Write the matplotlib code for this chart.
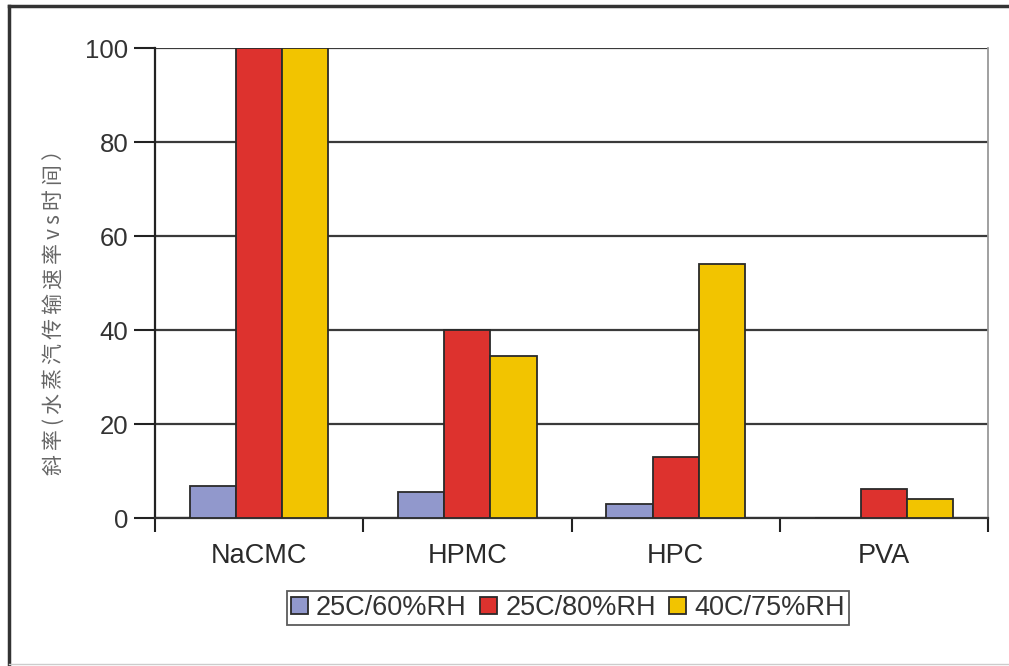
import numpy as np
import matplotlib.pyplot as plt
from matplotlib.lines import Line2D

plt.rcParams['font.family'] = ['Liberation Sans', 'DejaVu Sans']

# data
polymers = ['NaCMC', 'HPMC', 'HPC', 'PVA']
cond_names = ['25C/60%RH', '25C/80%RH', '40C/75%RH']
rh60_25c = [6.8, 5.6, 2.9, 0.0]
rh80_25c = [100.0, 40.0, 13.0, 6.2]
rh75_40c = [100.0, 34.4, 54.0, 4.1]
y_ticks = [0, 20, 40, 60, 80, 100]
y_label = '斜率(水蒸汽传输速率vs时间）'

colors = ['#9198CC', '#DD322E', '#F2C400']
series = [rh60_25c, rh80_25c, rh75_40c]

fig = plt.figure(figsize=(10.09, 6.66), dpi=100)
ax = fig.add_axes([155/1009, 1-518/666, (988-155)/1009, (518-48)/666])

x = np.arange(len(polymers))
w = 0.222
for k, (vals, col, name) in enumerate(zip(series, colors, cond_names)):
    ax.bar(x + (k-1)*w, vals, w, color=col, edgecolor='#2a2a2a', linewidth=1.3,
           label=name, zorder=3)

ax.set_ylim(0, 100)
ax.set_xlim(-0.5, len(polymers)-0.5)
ax.set_yticks(y_ticks)
ax.yaxis.grid(True, color='#3a3a3a', linewidth=1.6, zorder=0)
ax.set_axisbelow(True)

# category boundaries get the tick marks, names sit in the middle
ax.set_xticks(np.arange(len(polymers)+1) - 0.5)
ax.set_xticklabels([])
ax.set_xticks(x, minor=True)
ax.set_xticklabels(polymers, minor=True)
ax.tick_params(axis='x', which='major', direction='out', length=10, width=1.5, color='#222')
ax.tick_params(axis='x', which='minor', length=0, pad=18, labelsize=19.5, labelcolor='#2a2a2a')
ax.tick_params(axis='y', direction='out', length=15, width=1.5, color='#222',
               labelsize=18.5, labelcolor='#333333', pad=4)

ax.spines['top'].set_visible(False)
ax.spines['left'].set_linewidth(1.6)
ax.spines['left'].set_color('#222')
ax.spines['bottom'].set_linewidth(1.6)
ax.spines['bottom'].set_color('#333')
ax.spines['right'].set_color('#999999')
ax.spines['right'].set_linewidth(1.3)

# spaced-out axis title
spaced = '\u2009'.join(y_label)
fig.text(55/1009, 1-307/666, spaced, rotation=90, ha='center', va='center',
         fontsize=15, color='#666666',
         family=['Noto Sans CJK SC', 'DejaVu Sans'])

leg = fig.legend(loc='center', bbox_to_anchor=(568/1009, 1-608/666), ncol=3,
                 fontsize=19.5, frameon=True, fancybox=False, edgecolor='#333333',
                 handlelength=0.62, handleheight=0.62, handletextpad=0.3,
                 columnspacing=0.5, borderpad=0.15, borderaxespad=0)
leg.get_frame().set_linewidth(1.3)
for t in leg.get_texts():
    t.set_color('#333333')

# outer frame
fig.add_artist(Line2D([9/1009, 9/1009], [0, 1-6/666], color='#333', linewidth=2.5,
                      transform=fig.transFigure))
fig.add_artist(Line2D([9/1009, 1], [1-6/666, 1-6/666], color='#333', linewidth=2.5,
                      transform=fig.transFigure))
fig.add_artist(Line2D([9/1009, 1], [1-664/666, 1-664/666], color='#cccccc', linewidth=1,
                      transform=fig.transFigure))

fig.savefig('out.png', dpi=100)
